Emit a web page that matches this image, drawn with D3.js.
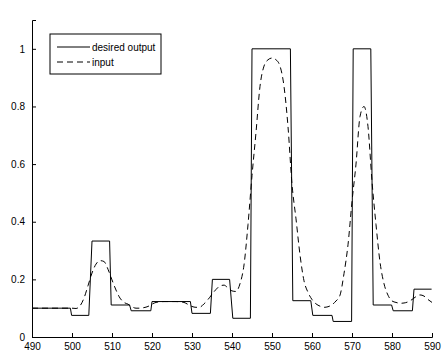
<!DOCTYPE html>
<html>
<head>
<meta charset="utf-8">
<script src="https://cdn.jsdelivr.net/npm/d3@7"></script>
<style>
  body { margin: 0; background: #fff; }
  svg { display: block; }
  text { font-family: "Liberation Sans", Arial, sans-serif; }
</style>
</head>
<body>
<svg id="chart"></svg>
<script>
// desired output: step-like target (vertex x, vertex y)
const desiredX = [490, 499.6, 499.9, 504.2, 505, 509.4, 509.8, 514.4, 514.8, 519.7, 520, 529.6, 530, 534.6, 535.1,
  539.4, 540.2, 544.6, 545, 554.6, 555.2, 559.7, 560.2, 565, 565.3, 569.9, 570.3, 574.7, 575.3, 579.9, 580.3,
  585.1, 585.5, 589.9];
const desiredY = [0.1, 0.1, 0.075, 0.075, 0.333, 0.333, 0.111, 0.111, 0.091, 0.091, 0.123, 0.123, 0.082, 0.082, 0.2,
  0.2, 0.065, 0.065, 1, 1, 0.126, 0.126, 0.075, 0.075, 0.054, 0.054, 1, 1, 0.111, 0.111, 0.091,
  0.091, 0.166, 0.166];

// input: smooth curve sampled each unit from 490 to 590
const inputX = d3.range(490, 591);
const inputY = [
  0.1, 0.1, 0.1, 0.1, 0.1, 0.1, 0.1, 0.1, 0.1, 0.1,          // 490-499
  0.1, 0.099, 0.108, 0.135, 0.178, 0.222, 0.253, 0.265, 0.262, 0.235, // 500-509
  0.198, 0.163, 0.135, 0.12, 0.114, 0.105, 0.1, 0.1, 0.102, 0.106,     // 510-519
  0.114, 0.12, 0.122, 0.123, 0.123, 0.123, 0.123, 0.122, 0.12, 0.113,  // 520-529
  0.106, 0.103, 0.104, 0.115, 0.13, 0.148, 0.165, 0.177, 0.18, 0.17,   // 530-539
  0.16, 0.158, 0.185, 0.25, 0.39, 0.56, 0.71, 0.87, 0.94, 0.962,       // 540-549
  0.968, 0.962, 0.94, 0.87, 0.73, 0.53, 0.41, 0.285, 0.195, 0.155,     // 550-559
  0.13, 0.115, 0.107, 0.103, 0.105, 0.112, 0.125, 0.145, 0.22, 0.32,   // 560-569
  0.47, 0.6, 0.765, 0.8, 0.73, 0.54, 0.39, 0.26, 0.185, 0.145,         // 570-579
  0.125, 0.12, 0.117, 0.118, 0.122, 0.13, 0.14, 0.146, 0.142, 0.13,    // 580-589
  0.12                                                                 // 590
];

const xTicks = d3.range(490, 591, 10);
const yTicks = [0, 0.2, 0.4, 0.6, 0.8, 1];
const legendLabels = ['desired output', 'input'];

const W = 444, H = 359;
const margin = {top: 20, right: 12, bottom: 22, left: 32};
const width = W - margin.left - margin.right;
const height = H - margin.top - margin.bottom;

const svg = d3.select('#chart')
  .attr('width', W)
  .attr('height', H)
  .append('g')
  .attr('transform', 'translate(' + margin.left + ',' + margin.top + ')');

const x = d3.scaleLinear().domain([490, 590]).range([0, width]);
const y = d3.scaleLinear().domain([0, 1.1]).range([height, 0]);

// axes (ticks point inward, no box)
const xAxis = svg.append('g')
  .attr('transform', 'translate(0,' + height + ')')
  .call(d3.axisBottom(x).tickValues(xTicks).tickSize(-4).tickPadding(7).tickFormat(d3.format('d')));
const yAxis = svg.append('g')
  .call(d3.axisLeft(y).tickValues(yTicks).tickSize(-4).tickPadding(7).tickFormat(d => d === 0 ? '0' : d === 1 ? '1' : d3.format('.1f')(d)));

[xAxis, yAxis].forEach(a => {
  a.select('.domain').attr('stroke', '#000').attr('stroke-width', 1);
  a.selectAll('.tick line').attr('stroke', '#000');
  a.selectAll('.tick text').attr('fill', '#000').style('font-size', '10px');
});
xAxis.selectAll('.tick text').attr('dy', '0.6em');

// lines
const desired = desiredX.map((d, i) => [d, desiredY[i]]);
const input = inputX.map((d, i) => [d, inputY[i]]);

const lineStep = d3.line().x(d => x(d[0])).y(d => y(d[1]));
const lineSmooth = d3.line().x(d => x(d[0])).y(d => y(d[1])).curve(d3.curveMonotoneX);

svg.append('path')
  .datum(desired)
  .attr('d', lineStep)
  .attr('fill', 'none')
  .attr('stroke', '#000')
  .attr('stroke-width', 1);

svg.append('path')
  .datum(input)
  .attr('d', lineSmooth)
  .attr('fill', 'none')
  .attr('stroke', '#000')
  .attr('stroke-width', 1)
  .attr('stroke-dasharray', '6,4');

// legend
const legend = svg.append('g').attr('transform', 'translate(18,14)');
legend.append('rect')
  .attr('x', 0).attr('y', 0)
  .attr('width', 111).attr('height', 40)
  .attr('fill', '#fff')
  .attr('stroke', '#000');

legendLabels.forEach((label, i) => {
  const ly = 13 + i * 15;
  legend.append('line')
    .attr('x1', 7).attr('x2', 40)
    .attr('y1', ly).attr('y2', ly)
    .attr('stroke', '#000')
    .attr('stroke-dasharray', i === 1 ? '6,4' : null);
  legend.append('text')
    .attr('x', 42).attr('y', ly)
    .attr('dy', '0.35em')
    .style('font-size', '10px')
    .text(label);
});
</script>
</body>
</html>
